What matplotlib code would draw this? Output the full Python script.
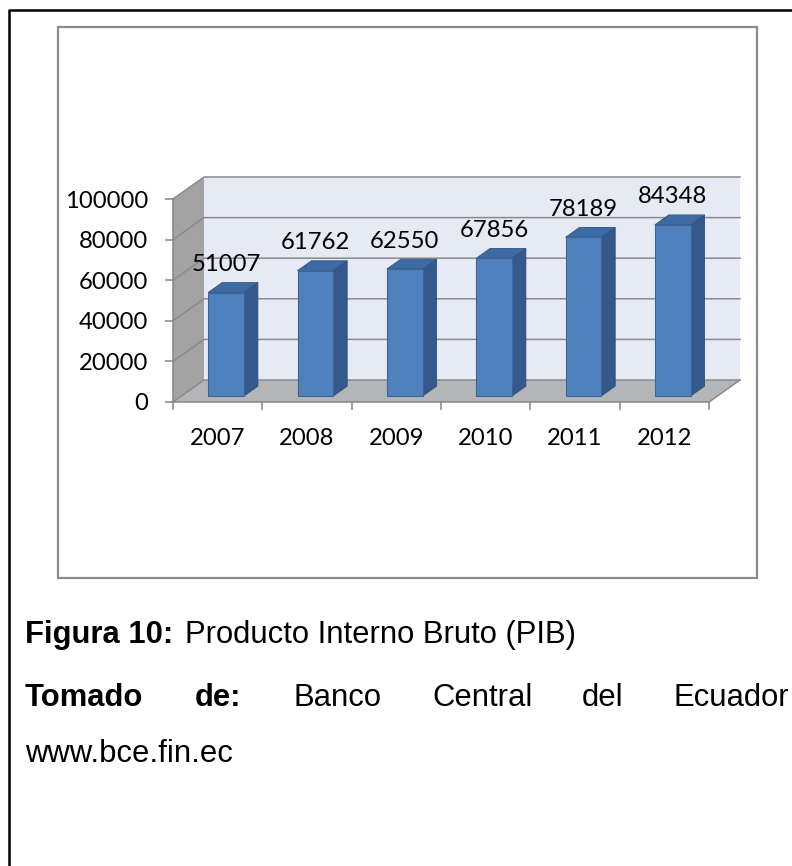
import matplotlib.pyplot as plt
from matplotlib.patches import Polygon, Rectangle
from matplotlib.lines import Line2D

years = ["2007", "2008", "2009", "2010", "2011", "2012"]
pib = [51007, 61762, 62550, 67856, 78189, 84348]
y_ticks = [0, 20000, 40000, 60000, 80000, 100000]

W, H = 792, 866
fig = plt.figure(figsize=(W / 100, H / 100), dpi=100)
fig.patch.set_facecolor("white")


def fx(x):
    return x / W


def fy(y):
    return 1 - y / H


chart_font = ["Lato", "DejaVu Sans"]
text_font = ["Liberation Sans", "DejaVu Sans"]
cfs = 17.2

# page frame and chart box (kept behind the axes)
fig.add_artist(Line2D([fx(9), fx(9), fx(W + 5)], [fy(H + 5), fy(10), fy(10)],
                      transform=fig.transFigure, color="black", lw=1.8, zorder=-2))
fig.add_artist(Rectangle((fx(58), fy(578)), fx(757) - fx(58), fy(27) - fy(578),
                         transform=fig.transFigure, facecolor="none",
                         edgecolor="#8c8c8c", lw=1.6, zorder=-2))

# front plane of the 3d box
left, right, top, bottom = 173, 709, 199, 402
n = len(years)
ymax = y_ticks[-1]
ax = fig.add_axes([fx(left), fy(bottom), (right - left) / W, (bottom - top) / H])
ax.set_xlim(0, n)
ax.set_ylim(0, ymax)
ax.set_facecolor("none")

# depth of the box in data units
DX = 31 / ((right - left) / n)
DY = 22 / ((bottom - top) / ymax)

grid_c = "#8a8a8a"

# walls and floor
ax.add_patch(Polygon([(DX, DY), (n + DX, DY), (n + DX, ymax + DY), (DX, ymax + DY)],
                     closed=True, facecolor="#e6eaf4", edgecolor="none", zorder=0, clip_on=False))
ax.add_patch(Polygon([(0, 0), (DX, DY), (DX, ymax + DY), (0, ymax)],
                     closed=True, facecolor="#a3a3a3", edgecolor="none", zorder=0, clip_on=False))
ax.add_patch(Polygon([(0, 0), (n, 0), (n + DX, DY), (DX, DY)],
                     closed=True, facecolor="#b4b5b7", edgecolor="none", zorder=0, clip_on=False))

for t in y_ticks:
    ax.plot([0, DX, n + DX], [t, t + DY, t + DY], color=grid_c, lw=1.1, zorder=1, clip_on=False)
ax.plot([n, n + DX], [0, DY], color=grid_c, lw=1.1, zorder=1, clip_on=False)

# bars
d0 = 0.27     # front face position inside the depth
depth = 0.45  # bar thickness as a fraction of the depth
bw = 0.40
for i, v in enumerate(pib):
    x0 = i + 0.5 - bw / 2 + d0 * DX
    x1 = x0 + bw
    y0 = d0 * DY
    y1 = v + d0 * DY
    ox, oy = depth * DX, depth * DY
    ax.add_patch(Polygon([(x1, y0), (x1 + ox, y0 + oy), (x1 + ox, y1 + oy), (x1, y1)],
                         closed=True, facecolor="#34598a", edgecolor="#2c4d78", lw=0.6,
                         zorder=3, clip_on=False))
    ax.add_patch(Polygon([(x0, y1), (x1, y1), (x1 + ox, y1 + oy), (x0 + ox, y1 + oy)],
                         closed=True, facecolor="#3d6aa3", edgecolor="#2f5585", lw=0.6,
                         zorder=3, clip_on=False))
    ax.add_patch(Polygon([(x0, y0), (x1, y0), (x1, y1), (x0, y1)],
                         closed=True, facecolor="#4f81bd", edgecolor="#3a6597", lw=0.8,
                         zorder=4, clip_on=False))
    ax.annotate(str(v), xy=(i + 0.5 + d0 * DX, v + (d0 + depth) * DY),
                xytext=(0, 13), textcoords="offset points", ha="center", va="center",
                fontsize=cfs, family=chart_font, color="black", zorder=6,
                annotation_clip=False)

# axes, ticks and labels
for s in ["top", "right"]:
    ax.spines[s].set_visible(False)
for s in ["left", "bottom"]:
    ax.spines[s].set_color("#868686")
    ax.spines[s].set_linewidth(1.1)
    ax.spines[s].set_zorder(2)

ax.set_yticks(y_ticks)
ax.set_yticklabels([str(t) for t in y_ticks], fontsize=cfs, family=chart_font)
ax.tick_params(axis="y", direction="out", length=5.8, width=1.1, color="#868686", pad=12)

ax.set_xticks(range(n + 1))
ax.set_xticklabels([])
ax.set_xticks([i + 0.5 for i in range(n)], minor=True)
ax.set_xticklabels(years, minor=True, fontsize=cfs, family=chart_font)
ax.tick_params(axis="x", which="major", direction="out", length=5.8, width=1.1, color="#868686")
ax.tick_params(axis="x", which="minor", length=0, pad=18.5)

# caption
fs = 22.3
fig.text(fx(25), fy(643), "Figura 10:", fontsize=fs, family=text_font, weight="bold", va="baseline")
fig.text(fx(185), fy(643), "Producto Interno Bruto (PIB)", fontsize=fs, family=text_font, va="baseline")
for word, x, bold in [("Tomado", 25, True), ("de:", 195, True), ("Banco", 293, False),
                      ("Central", 432, False), ("del", 582, False), ("Ecuador", 674, False)]:
    fig.text(fx(x), fy(706), word, fontsize=fs, family=text_font,
             weight="bold" if bold else "normal", va="baseline")
fig.text(fx(25), fy(762), "www.bce.fin.ec", fontsize=fs, family=text_font, va="baseline")

fig.savefig("out.png", dpi=100)
